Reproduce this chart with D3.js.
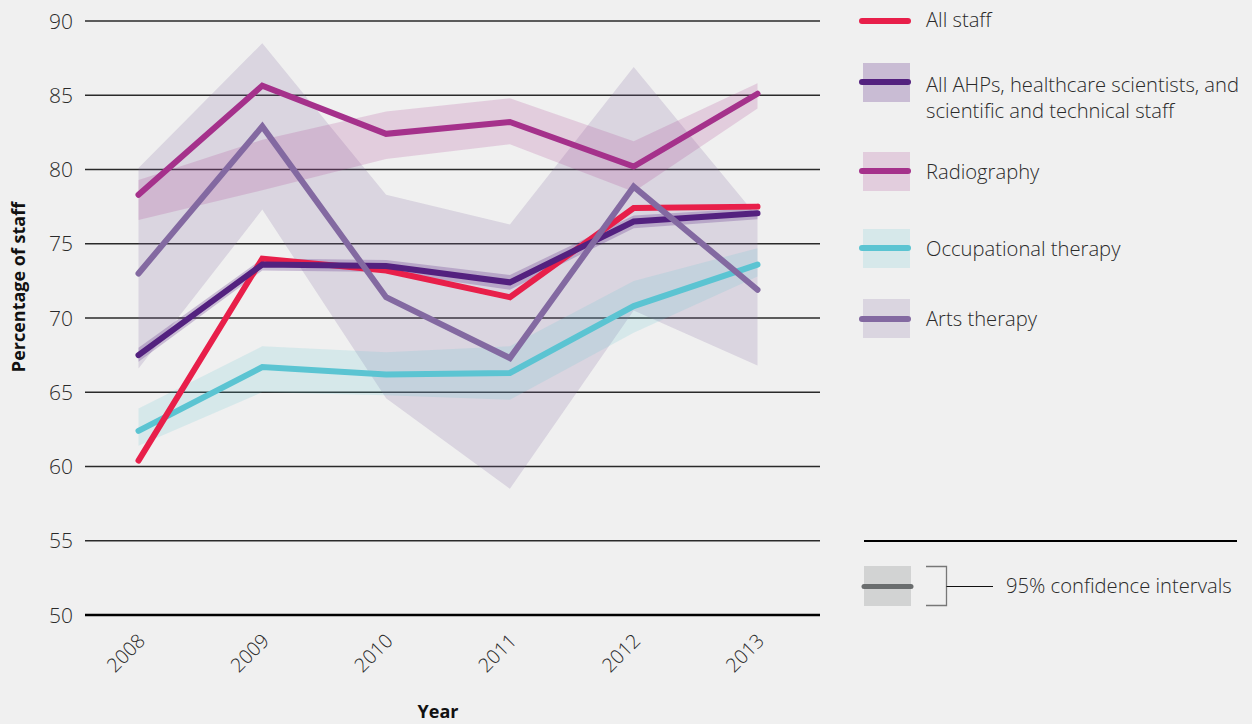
<!DOCTYPE html>
<html>
<head>
<meta charset="utf-8">
<script src="https://cdn.jsdelivr.net/npm/d3@7"></script>
<style>
  html, body { margin: 0; padding: 0; background: #f0f0f0; }
  svg { display: block; }
  text { font-family: "Open Sans", sans-serif; }
</style>
</head>
<body>
<svg id="chart" width="1252" height="724"></svg>
<script>
// ---- data ----
const years = [2008, 2009, 2010, 2011, 2012, 2013];
const yTicks = [50, 55, 60, 65, 70, 75, 80, 85, 90];

const allStaff = [60.4, 74.0, 73.2, 71.4, 77.4, 77.5];

const ahp = [67.5, 73.6, 73.5, 72.4, 76.5, 77.05];
const ahpLow = [67.05, 73.2, 73.1, 71.9, 76.05, 76.65];
const ahpHigh = [68.0, 74.0, 73.9, 72.9, 76.9, 77.4];

const radiography = [78.3, 85.65, 82.4, 83.2, 80.2, 85.1];
const radLow = [76.6, 78.6, 80.7, 81.7, 78.5, 84.1];
const radHigh = [79.3, 82.0, 83.9, 84.8, 81.9, 85.8];

const occTherapy = [62.4, 66.7, 66.2, 66.3, 70.8, 73.6];
const otLow = [61.4, 65.0, 64.8, 64.5, 69.0, 72.8];
const otHigh = [63.9, 68.1, 67.7, 68.1, 72.5, 74.7];

const artsTherapy = [73.0, 82.9, 71.4, 67.3, 78.85, 71.9];
const artsLow = [66.6, 77.3, 64.6, 58.5, 70.5, 66.8];
const artsHigh = [80.1, 88.5, 78.3, 76.3, 86.9, 76.8];

const legendLabels = [
  ["All staff"],
  ["All AHPs, healthcare scientists, and", "scientific and technical staff"],
  ["Radiography"],
  ["Occupational therapy"],
  ["Arts therapy"]
];
const ciLabel = "95% confidence intervals";

// ---- styles ----
const C = {
  all: "#e81f4a",
  ahp: "#53217f",
  rad: "#a5318b",
  ot: "#5bc4d2",
  arts: "#8369a1"
};

const svg = d3.select("#chart");
const x = d3.scaleLinear().domain([2008, 2013]).range([138.5, 757.5]);
const y = d3.scaleLinear().domain([50, 90]).range([615, 21]);

// gridlines
const gx0 = 85, gx1 = 820;
svg.append("g").selectAll("line").data(yTicks).join("line")
  .attr("x1", gx0).attr("x2", gx1)
  .attr("y1", d => y(d)).attr("y2", d => y(d))
  .attr("stroke", d => d === 50 ? "#000" : "#2a2a2a")
  .attr("stroke-width", d => d === 50 ? 2.5 : 1.4);

// y axis tick labels
svg.append("g").selectAll("text").data(yTicks).join("text")
  .attr("x", 73).attr("y", d => y(d))
  .attr("dy", "0.36em")
  .attr("text-anchor", "end")
  .attr("font-size", 21).attr("font-weight", 300)
  .attr("fill", "#2a2a2a")
  .text(d => d);

// x tick labels
svg.append("g").selectAll("text").data(years).join("text")
  .attr("transform", d => `translate(${x(d) + 8},${642}) rotate(-45)`)
  .attr("text-anchor", "end")
  .attr("font-size", 19.5).attr("font-weight", 300)
  .attr("fill", "#2a2a2a")
  .text(d => d);

// axis titles
svg.append("text")
  .attr("transform", "translate(25,287) rotate(-90)")
  .attr("text-anchor", "middle")
  .attr("font-size", 18).attr("font-weight", 700)
  .attr("fill", "#111")
  .text("Percentage of staff");
svg.append("text")
  .attr("x", 438).attr("y", 718)
  .attr("text-anchor", "middle")
  .attr("font-size", 18).attr("font-weight", 700)
  .attr("fill", "#111")
  .text("Year");

// bands
const band = (lo, hi) => d3.area()
  .x((d, i) => x(years[i]))
  .y0((d, i) => y(lo[i]))
  .y1((d, i) => y(hi[i]))(years);

const bands = [
  { lo: artsLow, hi: artsHigh, color: C.arts, op: 0.2 },
  { lo: radLow, hi: radHigh, color: C.rad, op: 0.18 },
  { lo: otLow, hi: otHigh, color: C.ot, op: 0.17 },
  { lo: ahpLow, hi: ahpHigh, color: C.ahp, op: 0.25 }
];
svg.append("g").selectAll("path").data(bands).join("path")
  .attr("d", d => band(d.lo, d.hi))
  .attr("fill", d => d.color)
  .attr("fill-opacity", d => d.op);

// lines
const line = d3.line().x((d, i) => x(years[i])).y(d => y(d));
const series = [
  { v: occTherapy, color: C.ot },
  { v: radiography, color: C.rad },
  { v: allStaff, color: C.all },
  { v: ahp, color: C.ahp },
  { v: artsTherapy, color: C.arts }
];
svg.append("g").selectAll("path").data(series).join("path")
  .attr("d", d => line(d.v))
  .attr("fill", "none")
  .attr("stroke", d => d.color)
  .attr("stroke-width", 6)
  .attr("stroke-linecap", "round")
  .attr("stroke-linejoin", "miter");

// legend
const leg = svg.append("g");
const legendItems = [
  { color: C.all, box: null, ly: 21, ty: 27 },
  { color: C.ahp, box: [C.ahp, 0.25], ly: 82, ty: 92, by: 63 },
  { color: C.rad, box: [C.rad, 0.18], ly: 171, ty: 179, by: 152 },
  { color: C.ot, box: [C.ot, 0.17], ly: 248, ty: 256, by: 229 },
  { color: C.arts, box: [C.arts, 0.2], ly: 319, ty: 326, by: 299 }
];
legendItems.forEach((it, i) => {
  if (it.box) {
    leg.append("rect").attr("x", 863).attr("y", it.by)
      .attr("width", 47).attr("height", 39)
      .attr("fill", it.box[0]).attr("fill-opacity", it.box[1]);
  }
  leg.append("line").attr("x1", 862).attr("x2", 908)
    .attr("y1", it.ly).attr("y2", it.ly)
    .attr("stroke", it.color).attr("stroke-width", 6)
    .attr("stroke-linecap", "round");
  const t = leg.append("text").attr("x", 926).attr("y", it.ty)
    .attr("font-size", 20.2).attr("font-weight", 300).attr("fill", "#2a2a2a");
  legendLabels[i].forEach((s, j) => {
    t.append("tspan").attr("x", 926).attr("dy", j === 0 ? 0 : 26).text(s);
  });
});

// separator
leg.append("line").attr("x1", 864).attr("x2", 1237).attr("y1", 541).attr("y2", 541)
  .attr("stroke", "#000").attr("stroke-width", 2);

// CI legend
leg.append("rect").attr("x", 864).attr("y", 566).attr("width", 47).attr("height", 40)
  .attr("fill", "#d2d3d3");
leg.append("line").attr("x1", 864).attr("x2", 911).attr("y1", 586.5).attr("y2", 586.5)
  .attr("stroke", "#6a6d6e").attr("stroke-width", 5).attr("stroke-linecap", "round");
leg.append("path").attr("d", "M926,566.5H946.5V605.5H926")
  .attr("fill", "none").attr("stroke", "#777").attr("stroke-width", 1.3);
leg.append("line").attr("x1", 946.5).attr("x2", 993).attr("y1", 586.5).attr("y2", 586.5)
  .attr("stroke", "#111").attr("stroke-width", 1.2);
leg.append("text").attr("x", 1006).attr("y", 593)
  .attr("font-size", 20.2).attr("font-weight", 300).attr("fill", "#2a2a2a")
  .text(ciLabel);
</script>
</body>
</html>
